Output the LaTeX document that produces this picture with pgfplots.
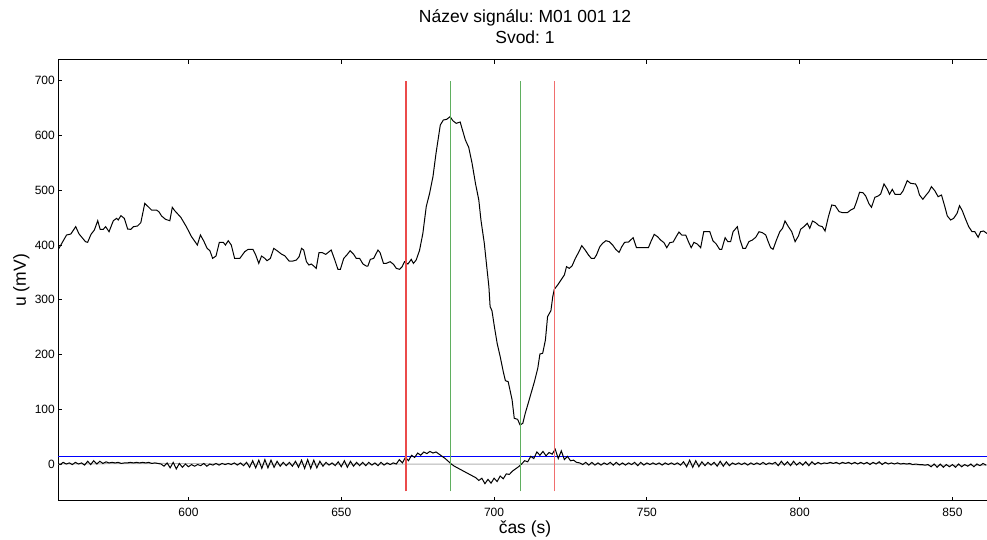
\documentclass[border=0pt]{standalone}
\usepackage{pgfplots}
\pgfplotsset{compat=1.18}
\usepackage{fontspec}
\setmainfont{Liberation Sans}
\frenchspacing
\definecolor{lred}{RGB}{235,75,75}
\definecolor{lred2}{RGB}{240,110,110}
\definecolor{lgreen}{RGB}{95,175,95}
\begin{document}
\begin{tikzpicture}[x=1pt,y=1pt]
\begin{axis}[
  at={(58pt,39.3pt)}, anchor=south west,
  scale only axis, width=929pt, height=440.7pt,
  xmin=557.3, xmax=861.3, ymin=-67, ymax=737.8,
  axis x line*=box, axis y line*=left,
  axis line style={line width=1pt, black},
  xtick={600,650,700,750,800,850},
  ytick={0,100,200,300,400,500,600,700},
  tick align=inside, major tick length=4pt,
  tick style={black, line width=0.9pt},
  /pgf/number format/assume math mode=true,
  /pgf/number format/set thousands separator={},
  ticklabel style={font=\fontsize{12}{14}\selectfont},
  xticklabel style={anchor=base, yshift=-16pt, inner sep=0pt},
  yticklabel style={anchor=east, inner sep=0pt, xshift=-3pt},
  title={Název signálu: M01 001 12\\Svod: 1},
  title style={align=center, font=\fontsize{17.5}{20.2}\selectfont, anchor=south,
    at={(axis description cs:0.5027,1)}, yshift=10.5pt, inner sep=0pt},
  xlabel={čas (s)},
  xlabel style={font=\fontsize{17.5}{20}\selectfont, anchor=base,
    at={(axis description cs:0.5027,0)}, yshift=-33pt, inner sep=0pt},
  ylabel={u (mV)},
  ylabel style={font=\fontsize{17.5}{20}\selectfont, anchor=base,
    at={(axis description cs:-0.0345,0.5)}, inner sep=0pt},
]
% gray baseline
\addplot[gray!60, line width=1pt] coordinates {(557.3,0) (590,1) (620,0) (700,0) (800,0) (810,1) (830,1) (840,-2) (861.3,-2)};
% blue threshold
\addplot[blue, line width=1.1pt] coordinates {(557.3,14) (861.3,14)};
% main signal
\addplot[black, line width=1pt] table {
557.3 398
557.6 393.8
560.1 418.2
561.5 420
563.1 433.4
564.2 420
566.3 406
567.0 404.8
568.1 419.4
569.2 427.3
570.3 444.3
571.1 428.5
572.1 428.5
572.9 433.4
574.0 424.2
575.4 444.3
576.5 448.6
577.0 445.6
577.9 453.5
579.0 448.6
580.1 429.1
581.1 428.5
582.0 433.4
583.3 434.6
584.4 440.7
585.7 476
586.8 469.9
587.9 463.8
589.5 463.8
590.3 460.8
591.2 452.9
592.5 446.8
593.9 444.3
594.7 468.7
595.5 462.6
597.5 450.4
599.3 433.4
601.0 415.1
602.9 399.9
603.9 418.2
605.0 407.2
606.1 393.8
607.0 389.6
607.9 375.5
609.0 379.8
610.1 404.8
611.4 404.8
612.1 399.9
613.0 407.8
614.0 399.9
615.1 375.5
616.8 375.5
618.4 387.7
619.5 391.9
621.1 392
622.0 381.6
623.0 366.4
623.9 379.8
625.0 375.5
625.7 371.3
626.8 375.5
627.9 393.8
629.0 389.5
630.4 383.4
631.5 380.4
632.9 370.7
634.2 370.7
635.3 372.5
636.2 378.6
637.0 393.8
637.7 390.8
638.6 369.5
639.4 363.4
640.2 365.2
641.0 361.5
641.8 357.3
642.7 385.9
643.8 385.9
644.9 382.8
646.7 390.8
647.8 373.7
648.9 355.5
649.7 355.5
650.8 375.5
651.8 381.6
652.9 389.5
654.0 383.4
654.9 375.5
656.0 375.5
657.1 365.2
658.2 361.5
658.7 361.5
659.5 373.7
660.6 375.5
662.0 390.8
662.7 385.9
663.8 366.4
664.7 366.4
666.0 369.5
667.1 364.6
668.0 357.3
669.1 355.5
669.9 360.3
670.7 369.5
671.8 365.2
672.9 373.7
673.6 366.4
674.5 372.5
675.6 390
676.7 421.3
677.8 470
678.9 494.3
680.0 524.8
681.0 567.4
682.4 619.1
683.4 628.2
684.5 629.5
685.6 634.3
686.5 627
687.6 622.1
688.9 624.6
689.5 613
690.6 591.7
691.7 578.3
692.8 549.1
693.9 512.6
695.0 482.1
695.7 445.6
696.8 403
697.6 360.4
698.3 323.9
698.7 287.4
699.3 280.1
700.1 250.8
701.0 220.4
702.0 196.1
703.0 168.7
703.7 152.2
704.6 150.4
705.2 135.2
705.9 116.9
706.6 83.5
707.7 81.6
708.5 71.3
709.4 74.3
710.2 92.6
711.0 107.8
712.1 129.1
713.2 150.4
714.3 174.8
715.0 200.9
715.9 202.2
716.8 226.5
717.5 269.1
718.6 280.1
719.2 305.6
719.7 319
720.8 326.9
721.9 336.1
723.0 345.2
723.7 360.4
724.6 357.3
725.5 361.6
726.6 375.6
727.6 385.9
728.7 398.7
729.8 390.8
730.9 381.6
731.8 375.6
732.8 375.6
733.5 381.6
734.6 396.9
735.5 403
736.6 407.8
737.7 406
738.8 399.9
739.8 392
740.9 386.5
741.8 396.9
742.7 404.8
744.0 405.4
745.5 413.3
746.6 395
748.3 395
750.5 395
751.3 406
752.4 419.4
753.5 415.1
754.5 409
755.6 404.2
756.5 395
757.5 404.2
758.6 405.4
759.7 416.3
760.5 423.6
761.4 418.2
762.7 418.2
763.6 406
764.5 395
765.4 404.8
766.5 401.7
767.6 395
768.6 424.2
770.6 424.2
771.6 407.8
772.7 401.7
773.8 392
774.5 392
775.6 413.3
776.5 406
777.4 406
778.2 424.2
779.6 433.4
780.5 409
781.4 393.8
782.3 393.8
783.4 406
784.5 409
785.6 413.9
786.7 424.2
787.8 422.4
788.9 418.2
789.7 406
790.5 395
791.3 392.1
792.4 409.1
793.5 424.3
794.4 430.4
795.2 443.8
796.3 433.5
797.4 424.3
798.5 406.1
799.6 416.4
800.3 428.6
801.4 433.5
802.5 439.5
803.3 430.4
804.2 443.8
805.2 440.8
806.3 435.3
807.4 433.5
808.3 425.5
809.4 451.7
810.5 473
811.6 471.8
812.9 460.9
814.0 459
815.6 459
816.7 463.9
817.8 466.9
818.5 477.3
819.6 496.2
820.7 495.5
821.6 489.5
822.7 474.9
823.5 468.8
824.6 487
825.7 489.5
826.5 493.1
827.6 511.4
828.7 501.6
829.4 492.5
830.3 501.6
831.2 492.5
833.0 492.5
833.8 498.6
835.2 517.5
836.3 512.6
837.9 511.4
838.5 505.3
839.2 491.3
840.3 483.4
841.4 491.3
842.3 497.4
843.1 506.5
844.2 499.2
845.3 488.2
846.4 491.3
847.5 470
848.3 453
849.4 445.6
850.4 448.7
851.5 457.8
852.3 471.8
853.2 462.7
854.3 446.9
855.3 433.5
856.4 424.3
857.3 424.3
858.4 414
859.2 424.3
860.2 425.5
860.9 422.5
861.3 421
};
% lower (derivative) signal
\addplot[black, line width=1pt] table {
557 2
558 -1
559 3
560 0
561 2
562 -1
563 3
564 0
565 2
566 -2
567 5
568 -1
569 6
570 0
571 5
572 1
573 4
574 2
575 3
576 2
577 3
578 1
579 2
580 2
581 3
582 2
583 3
584 2
585 3
586 2
587 3
588 1
589 2
590 1
591 0
592 -4
593 2
594 -7
595 3
596 -9
597 1
598 -6
599 0
600 -5
601 -1
602 -4
603 -1
604 -3
605 1
606 -4
607 0
608 -2
609 1
610 -2
611 1
612 -1
613 1
614 -1
615 2
616 -2
617 2
618 -3
619 3
620 -6
621 6
622 -7
623 7
624 -8
625 8
626 -7
627 7
628 -6
629 5
630 -4
631 3
632 -3
633 3
634 -4
635 5
636 -6
637 7
638 -8
639 8
640 -8
641 7
642 -7
643 5
644 -4
645 3
646 -2
647 2
648 -3
649 4
650 -5
651 6
652 -6
653 5
654 -4
655 3
656 -3
657 3
658 -3
659 3
660 -2
661 2
662 -3
663 3
664 -2
665 2
666 -1
667 2
668 0
669 8
670 2
671 12
672 6
673 16
674 12
675 20
676 16
677 22
678 19
679 23
680 20
681 22
682 18
683 14
684 10
685 5
686 0
687 -4
688 -7
689 -10
690 -13
691 -16
692 -19
693 -22
694 -25
695 -30
696 -26
697 -36
698 -28
699 -35
700 -26
701 -32
702 -22
703 -27
704 -18
705 -19
706 -13
707 -9
708 -5
709 0
710 6
711 4
712 14
713 10
714 22
715 16
716 23
717 15
718 21
719 18
720 27
721 10
722 24
723 8
724 14
725 6
726 7
727 3
728 2
729 -1
730 3
731 -2
732 3
733 -2
734 2
735 -2
736 2
737 -1
738 3
739 -2
740 3
741 -2
742 2
743 -2
744 2
745 -1
746 3
747 -3
748 3
749 -2
750 2
751 -1
752 2
753 -1
754 2
755 -2
756 2
757 -1
758 2
759 -1
760 2
761 -2
762 4
763 -5
764 7
765 -6
766 6
767 -5
768 4
769 -3
770 3
771 -2
772 3
773 -4
774 5
775 -4
776 4
777 -3
778 2
779 -1
780 2
781 -1
782 2
783 -2
784 2
785 -1
786 2
787 -1
788 3
789 -1
790 2
791 0
792 3
793 -3
794 5
795 -2
796 4
797 -3
798 5
799 -2
800 3
801 -2
802 4
803 -3
804 4
805 -1
806 3
807 0
808 2
809 1
810 3
811 1
812 3
813 0
814 3
815 1
816 3
817 0
818 3
819 0
820 3
821 0
822 3
823 -1
824 3
825 0
826 4
827 -1
828 3
829 0
830 2
831 0
832 2
833 0
834 1
835 0
836 1
837 -1
838 0
839 -1
840 -1
841 -2
842 -1
843 -5
844 0
845 -6
846 0
847 -6
848 -1
849 -5
850 -1
851 -6
852 0
853 -5
854 -1
855 -4
856 0
857 -5
858 0
859 -3
860 1
861 -2
};
% boundary markers
\addplot[draw=lred, line width=1.4pt] coordinates {(671.15,-50) (671.15,700)};
\addplot[draw=lgreen, line width=1.4pt] coordinates {(685.7,-50) (685.7,700)};
\addplot[draw=lgreen, line width=1.4pt] coordinates {(708.6,-50) (708.6,700)};
\addplot[draw=lred2, line width=1.4pt] coordinates {(719.8,-50) (719.8,700)};
\end{axis}
\pgfresetboundingbox
\path[use as bounding box] (0,0) rectangle (987pt,540pt);
\end{tikzpicture}
\end{document}
